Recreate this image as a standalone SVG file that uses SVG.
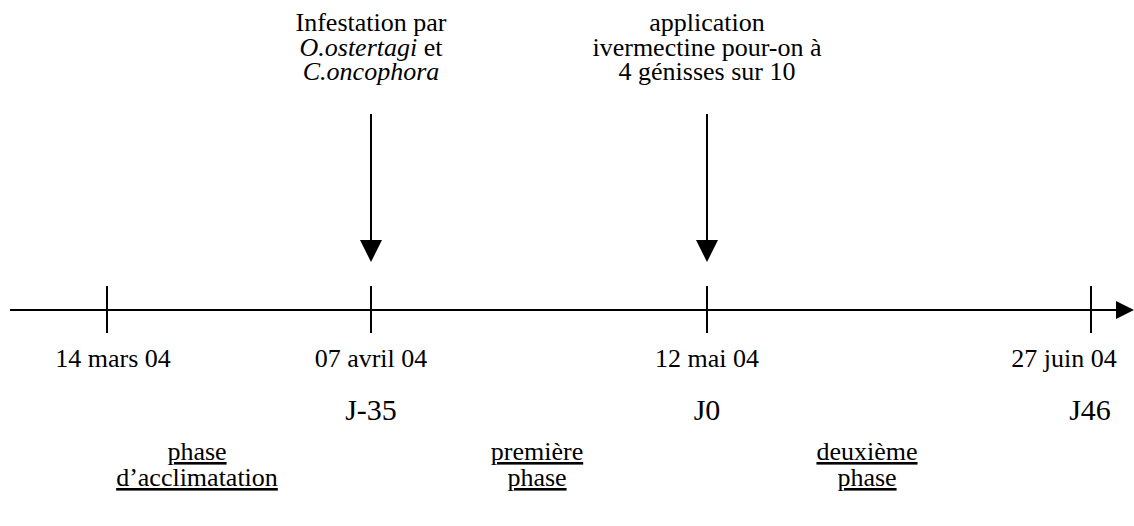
<svg xmlns="http://www.w3.org/2000/svg" width="1134" height="526" viewBox="0 0 1134 526">
<style>
text{font-family:"Liberation Serif","Tinos","Times New Roman","DejaVu Serif",serif;font-size:26px;fill:#000;text-anchor:middle}
.j{font-size:30px}
.i{font-style:italic}
.ln{stroke:#000;stroke-width:2;fill:none}
.u{text-decoration:underline}
</style>
<g id="connectors">
<line class="ln" x1="10" y1="310" x2="1118" y2="310"/>
<path d="M1116,301 L1134,310 L1116,319 z" fill="#000"/>
<line class="ln" x1="107" y1="286" x2="107" y2="333"/>
<line class="ln" x1="371" y1="286" x2="371" y2="333"/>
<line class="ln" x1="707" y1="286" x2="707" y2="333"/>
<line class="ln" x1="1091" y1="286" x2="1091" y2="333"/>
<line class="ln" x1="371" y1="114" x2="371" y2="242"/>
<path d="M360,240 L382,240 L371,262 z" fill="#000"/>
<line class="ln" x1="707" y1="114" x2="707" y2="242"/>
<path d="M696,240 L718,240 L707,262 z" fill="#000"/>
</g>
<g id="infestation">
<text x="371" y="31">Infestation par</text>
<text x="371" y="56"><tspan class="i">O.ostertagi</tspan> et</text>
<text x="371" y="80"><tspan class="i">C.oncophora</tspan></text>
</g>
<g id="application">
<text x="707" y="31">application</text>
<text x="707" y="56">ivermectine pour-on à</text>
<text x="707" y="80">4 génisses sur 10</text>
</g>
<g id="dates">
<text x="113" y="367">14 mars 04</text>
<text x="371" y="367">07 avril 04</text>
<text x="707" y="367">12 mai 04</text>
<text x="1064" y="367">27 juin 04</text>
</g>
<g id="days">
<text class="j" x="371" y="420">J-35</text>
<text class="j" x="707" y="420">J0</text>
<text class="j" x="1090" y="420">J46</text>
</g>
<g id="phases">
<text class="u" x="197" y="460">phase</text>
<text class="u" x="197" y="486">d’acclimatation</text>
<text class="u" x="537" y="460">première</text>
<text class="u" x="537" y="486">phase</text>
<text class="u" x="867" y="460">deuxième</text>
<text class="u" x="867" y="486">phase</text>
</g>
</svg>
